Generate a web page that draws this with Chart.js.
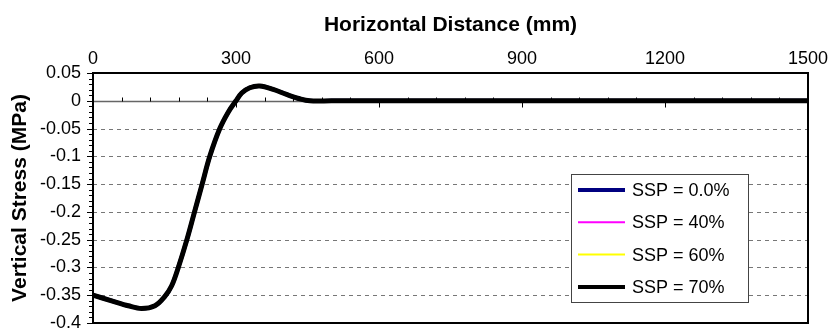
<!DOCTYPE html>
<html>
<head>
<meta charset="utf-8">
<script src="https://cdn.jsdelivr.net/npm/chart.js@4/dist/chart.umd.min.js"></script>
<style>
  body { margin: 0; background: #fff; }
  canvas { display: block; }
</style>
</head>
<body>
<canvas id="stress" width="830" height="334"></canvas>
<script>
const distance = [0, 39, 74, 102, 130, 150, 165, 179, 197, 213, 229, 245, 266, 284, 300, 312, 329, 350, 378, 406, 434, 455, 500, 600, 900, 1200, 1500]
const stress = [-0.35, -0.36, -0.369, -0.374, -0.369, -0.353, -0.333, -0.3, -0.25, -0.2, -0.15, -0.1, -0.05, -0.02, 0, 0.014, 0.0235, 0.0265, 0.0205, 0.0115, 0.0036, 0, 0, 0, 0, 0, 0]

const seriesNames = ['SSP = 0.0%', 'SSP = 40%', 'SSP = 60%', 'SSP = 70%']
const seriesColors = ['#000080', '#FF00FF', '#FFFF00', '#000000']
const seriesWidths = [4, 2, 2, 5]

const xTicks = [0, 300, 600, 900, 1200, 1500]
const yTicks = [0.05, 0, -0.05, -0.1, -0.15, -0.2, -0.25, -0.3, -0.35, -0.4]

const font = 'Liberation Sans, Arial, sans-serif'

const points = distance.map((d, i) => ({ x: d, y: stress[i] }))

// gridlines, zero axis with its tick marks, minor ticks, full frame
const framePlugin = {
    id: 'frame',
    beforeDatasetsDraw(chart) {
        const ctx = chart.ctx
        const area = chart.chartArea
        const x = chart.scales.x
        const y = chart.scales.y
        ctx.save()
        ctx.strokeStyle = '#777'
        ctx.lineWidth = 1
        ctx.setLineDash([4, 4])
        yTicks.forEach(v => {
            if (v === 0 || v === 0.05) return
            const py = Math.round(y.getPixelForValue(v)) + 0.5
            ctx.beginPath()
            ctx.moveTo(area.left, py)
            ctx.lineTo(area.right, py)
            ctx.stroke()
        })
        ctx.setLineDash([])
        const zero = Math.round(y.getPixelForValue(0)) + 0.5
        ctx.strokeStyle = '#666'
        ctx.lineWidth = 1.5
        ctx.beginPath()
        ctx.moveTo(area.left, zero)
        ctx.lineTo(area.right, zero)
        ctx.stroke()
        ctx.lineWidth = 1
        ctx.strokeStyle = '#000'
        for (let v = 60; v < 1500; v += 60) {
            const px = Math.round(x.getPixelForValue(v)) + 0.5
            ctx.beginPath()
            if (v % 300 === 0) {
                ctx.moveTo(px, zero)
                ctx.lineTo(px, zero + 6)
            } else {
                ctx.moveTo(px, zero)
                ctx.lineTo(px, zero - 4)
            }
            ctx.stroke()
        }
        for (let i = 0; i <= 45; i++) {
            const v = 0.05 - i * 0.01
            const py = Math.round(y.getPixelForValue(v)) + 0.5
            const len = i % 5 === 0 ? 6 : 4
            ctx.beginPath()
            ctx.moveTo(area.left - len, py)
            ctx.lineTo(area.left, py)
            ctx.stroke()
        }
        ctx.restore()
    },
    afterDatasetsDraw(chart) {
        const ctx = chart.ctx
        const area = chart.chartArea
        ctx.save()
        ctx.strokeStyle = '#000'
        ctx.lineWidth = 2
        ctx.strokeRect(area.left, area.top, area.right - area.left, area.bottom - area.top)
        ctx.restore()
    }
}

const legendPlugin = {
    id: 'boxLegend',
    afterDraw(chart) {
        const ctx = chart.ctx
        const area = chart.chartArea
        const left = area.right - 237
        const top = area.top + 101
        ctx.save()
        ctx.fillStyle = '#fff'
        ctx.fillRect(left, top, 177, 128)
        ctx.strokeStyle = '#444'
        ctx.lineWidth = 1
        ctx.strokeRect(left + 0.5, top + 0.5, 177, 128)
        ctx.font = '18px ' + font
        ctx.textBaseline = 'middle'
        chart.data.datasets.forEach((ds, i) => {
            const cy = top + 16 + i * 32.3
            ctx.strokeStyle = ds.borderColor
            ctx.lineWidth = ds.borderWidth === 5 ? 4 : ds.borderWidth
            ctx.beginPath()
            ctx.moveTo(left + 7, cy)
            ctx.lineTo(left + 54, cy)
            ctx.stroke()
            ctx.fillStyle = '#000'
            ctx.fillText(ds.label, left + 61, cy + 1)
        })
        ctx.restore()
    }
}

const ctx = document.getElementById('stress').getContext('2d')

new Chart(ctx, {
    type: 'line',
    data: {
        datasets: seriesNames.map((name, i) => ({
            label: name,
            data: points,
            borderColor: seriesColors[i],
            backgroundColor: seriesColors[i],
            borderWidth: seriesWidths[i],
            order: seriesNames.length - 1 - i,
            pointRadius: 0,
            fill: false,
            tension: 0.35,
            borderJoinStyle: 'round',
            borderCapStyle: 'round'
        }))
    },
    options: {
        responsive: false,
        animation: false,
        layout: { padding: { left: 0, top: 0, right: 22, bottom: 11 } },
        plugins: {
            legend: { display: false },
            tooltip: { enabled: false }
        },
        scales: {
            x: {
                type: 'linear',
                position: 'top',
                min: 0,
                max: 1500,
                afterBuildTicks: scale => { scale.ticks = xTicks.map(v => ({ value: v })) },
                afterFit: scale => {
                    scale.height = 73
                    scale.paddingLeft = 0
                    scale.paddingRight = 0
                },
                grid: { display: false, drawTicks: false },
                border: { display: false },
                ticks: {
                    color: '#000',
                    padding: 3,
                    maxRotation: 0,
                    font: { family: font, size: 18 },
                    callback: v => String(v)
                },
                title: {
                    display: true,
                    text: 'Horizontal Distance (mm)',
                    color: '#000',
                    padding: { top: 13, bottom: 0 },
                    font: { family: font, size: 21, weight: 'bold' }
                }
            },
            y: {
                type: 'linear',
                min: -0.4,
                max: 0.05,
                afterBuildTicks: scale => { scale.ticks = yTicks.map(v => ({ value: v })) },
                afterFit: scale => {
                    scale.width = 93
                    scale.paddingTop = 0
                    scale.paddingBottom = 0
                },
                grid: { display: false, drawTicks: false },
                border: { display: false },
                ticks: {
                    color: '#000',
                    padding: 12,
                    font: { family: font, size: 18 },
                    callback: v => String(v)
                },
                title: {
                    display: true,
                    text: 'Vertical Stress (MPa)',
                    color: '#000',
                    padding: { top: 8, bottom: 0 },
                    font: { family: font, size: 21, weight: 'bold' }
                }
            }
        }
    },
    plugins: [framePlugin, legendPlugin]
})
</script>
</body>
</html>
